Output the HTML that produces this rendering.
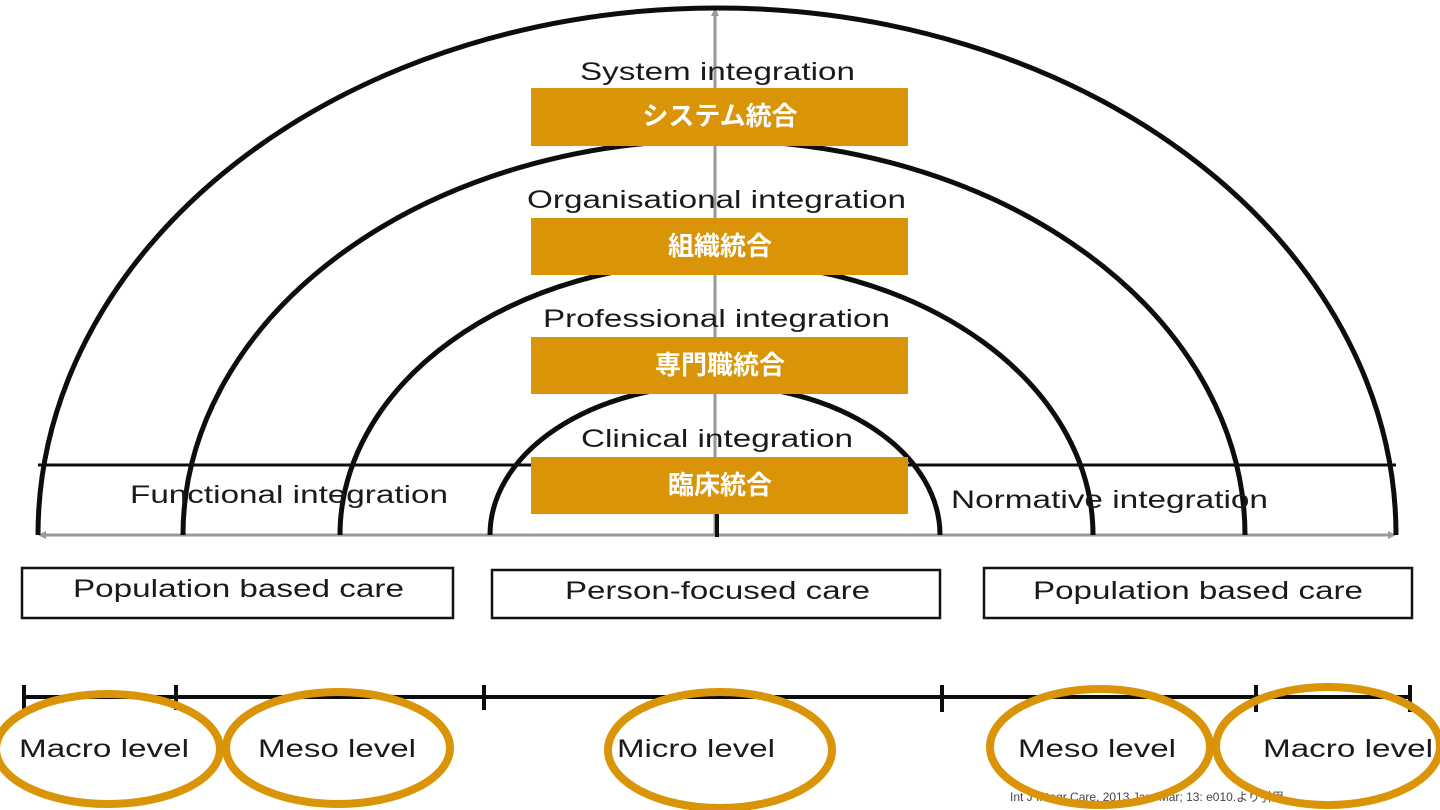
<!DOCTYPE html>
<html><head><meta charset="utf-8"><style>
html,body{margin:0;padding:0;background:#fff;}
svg{display:block;}
.t{font-family:"Liberation Sans",sans-serif;fill:#1a1a1a;}
.j{font-family:"Liberation Sans","Noto Sans CJK JP",sans-serif;fill:#fff;font-weight:bold;font-size:26px;}
</style></head><body>
<svg width="1440" height="810" viewBox="0 0 1440 810" xmlns="http://www.w3.org/2000/svg">
<defs>
<marker id="ah" markerWidth="8" markerHeight="8" refX="6" refY="4" orient="auto" markerUnits="userSpaceOnUse"><path d="M0,0 L8,4 L0,8 z" fill="#999"/></marker>
</defs>
<line x1="715" y1="535" x2="715" y2="10" stroke="#999" stroke-width="3" marker-end="url(#ah)"/>
<line x1="715" y1="535" x2="40" y2="535" stroke="#999" stroke-width="3" marker-end="url(#ah)"/>
<line x1="715" y1="535" x2="1394" y2="535" stroke="#999" stroke-width="3" marker-end="url(#ah)"/>
<line x1="717" y1="512" x2="717" y2="537" stroke="#111" stroke-width="4"/>
<g fill="none" stroke="#0d0d0d" stroke-width="5">
<path d="M38,535 A679,527 0 0 1 1396,535"/>
<path d="M183,535 A531,395 0 0 1 1245,535"/>
<path d="M340,535 A376,273 0 0 1 1093,535"/>
<path d="M490,535 A225,150 0 0 1 940,535"/>
</g>
<line x1="38" y1="465" x2="1396" y2="465" stroke="#0d0d0d" stroke-width="3"/>
<g class="t" font-size="25" lengthAdjust="spacingAndGlyphs">
<text x="580" y="80" textLength="275" lengthAdjust="spacingAndGlyphs">System integration</text>
<text x="527" y="208" textLength="379" lengthAdjust="spacingAndGlyphs">Organisational integration</text>
<text x="543" y="327" textLength="347" lengthAdjust="spacingAndGlyphs">Professional integration</text>
<text x="581" y="447" textLength="272" lengthAdjust="spacingAndGlyphs">Clinical integration</text>
<text x="130" y="503" textLength="318" lengthAdjust="spacingAndGlyphs">Functional integration</text>
<text x="951" y="508" textLength="317" lengthAdjust="spacingAndGlyphs">Normative integration</text>
<text x="73" y="597" textLength="331" lengthAdjust="spacingAndGlyphs">Population based care</text>
<text x="565" y="599" textLength="305" lengthAdjust="spacingAndGlyphs">Person-focused care</text>
<text x="1033" y="599" textLength="330" lengthAdjust="spacingAndGlyphs">Population based care</text>
</g>
<g fill="#D99407">
<rect x="531" y="88" width="377" height="58"/>
<rect x="531" y="218" width="377" height="57"/>
<rect x="531" y="337" width="377" height="57"/>
<rect x="531" y="457" width="377" height="57"/>
</g>
<g class="j" text-anchor="middle">
<text x="720" y="125">システム統合</text>
<text x="720" y="255">組織統合</text>
<text x="720" y="374">専門職統合</text>
<text x="720" y="494">臨床統合</text>
</g>
<g fill="none" stroke="#111" stroke-width="2.5">
<rect x="22" y="568" width="431" height="50"/>
<rect x="492" y="570" width="448" height="48"/>
<rect x="984" y="568" width="428" height="50"/>
</g>
<g stroke="#0d0d0d" stroke-width="4">
<line x1="22" y1="697" x2="1410" y2="697"/>
<line x1="24" y1="685" x2="24" y2="710"/>
<line x1="176" y1="685" x2="176" y2="710"/>
<line x1="484" y1="685" x2="484" y2="710"/>
<line x1="942" y1="685" x2="942" y2="712"/>
<line x1="1256" y1="685" x2="1256" y2="712"/>
<line x1="1410" y1="685" x2="1410" y2="712"/>
</g>
<g class="t" font-size="25">
<text x="19" y="757" textLength="170" lengthAdjust="spacingAndGlyphs">Macro level</text>
<text x="258" y="757" textLength="158" lengthAdjust="spacingAndGlyphs">Meso level</text>
<text x="617" y="757" textLength="158" lengthAdjust="spacingAndGlyphs">Micro level</text>
<text x="1018" y="757" textLength="158" lengthAdjust="spacingAndGlyphs">Meso level</text>
<text x="1263" y="757" textLength="170" lengthAdjust="spacingAndGlyphs">Macro level</text>
</g>
<text x="1010" y="801" font-family="Liberation Sans,'Noto Sans CJK JP',sans-serif" font-size="12" fill="#444">Int J Integr Care. 2013 Jan–Mar; 13: e010.より引用</text>
<g fill="none" stroke="#D99407" stroke-width="8">
<ellipse cx="108" cy="749" rx="112" ry="55"/>
<ellipse cx="338" cy="748" rx="112" ry="56"/>
<ellipse cx="720" cy="750" rx="112" ry="58"/>
<ellipse cx="1100" cy="747" rx="110" ry="58"/>
<ellipse cx="1328" cy="746" rx="112" ry="59"/>
</g>
</svg>
</body></html>
